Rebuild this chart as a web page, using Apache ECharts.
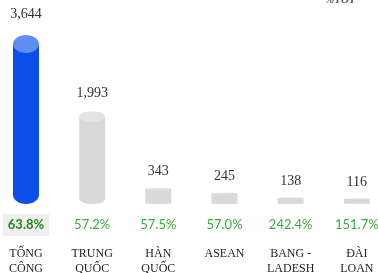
<!DOCTYPE html>
<html lang="vi">

<head>
    <meta charset="UTF-8">
    <title>Chart</title>
    <script src="https://cdn.jsdelivr.net/npm/echarts@6/dist/echarts.min.js"></script>
    <style>
        html, body { margin: 0; padding: 0; background: #fff; }
    </style>
</head>

<body>
    <div id="chart" style="width: 378px; height: 273px;"></div>
    <script>
        // data
        const categories = ['TỔNG\nCỘNG', 'TRUNG\nQUỐC', 'HÀN\nQUỐC', 'ASEAN', 'BANG -\nLADESH', 'ĐÀI\nLOAN'];
        const values = [3644, 1993, 343, 245, 138, 116];
        const yoy = ['63.8%', '57.2%', '57.5%', '57.0%', '242.4%', '151.7%'];

        function fmt(v) {
            return String(v).replace(/\B(?=(\d{3})+(?!\d))/g, ',');
        }

        const chart = echarts.init(document.getElementById('chart'));
        chart.setOption({
            animation: false,
            grid: { left: 0, right: 0, top: 35, bottom: 69 },
            // bar slots sit at 0..5; range chosen so the first and last bars land where the original has them
            xAxis: { type: 'value', min: -0.393, max: 5.32, show: false },
            yAxis: {
                type: 'value',
                min: 0,
                max: function (v) { return v.max; },
                show: false
            },
            graphic: [{
                type: 'text',
                left: 325,
                top: -5,
                style: {
                    text: '%YOY',
                    font: 'italic bold 11px "Liberation Serif"',
                    fill: '#555'
                }
            }],
            series: [{
                type: 'custom',
                clip: false,
                data: values.map((v, i) => [i, v]),
                renderItem: function (params, api) {
                    const i = params.dataIndex;
                    const top = api.coord([i, api.value(1)]);
                    const base = api.coord([i, 0]);
                    const w = 26;
                    const h = base[1] - top[1];
                    const ry = Math.min(9, h * 0.055);
                    const main = i === 0 ? '#0c4ee6' : '#d9d9d9';
                    const cap = i === 0 ? '#5f8ff0' : '#e3e3e3';
                    const first = i === 0;
                    return {
                        type: 'group',
                        children: [
                            {
                                type: 'rect',
                                shape: { x: top[0] - w / 2, y: top[1] + ry, width: w, height: Math.max(0, h - 2 * ry) },
                                style: { fill: main }
                            },
                            {
                                type: 'ellipse',
                                shape: { cx: top[0], cy: base[1] - ry, rx: w / 2, ry: ry },
                                style: { fill: main }
                            },
                            {
                                type: 'ellipse',
                                shape: { cx: top[0], cy: top[1] + ry, rx: w / 2, ry: ry },
                                style: { fill: cap }
                            },
                            {
                                type: 'text',
                                style: {
                                    text: fmt(values[i]),
                                    x: top[0],
                                    y: top[1] - 16 - ry / 2,
                                    align: 'center',
                                    verticalAlign: 'middle',
                                    font: '14px "Liberation Serif"',
                                    fill: '#333'
                                }
                            },
                            {
                                type: 'text',
                                style: {
                                    text: yoy[i],
                                    x: top[0],
                                    y: base[1] + 21,
                                    align: 'center',
                                    verticalAlign: 'middle',
                                    font: (first ? 'bold ' : '') + '13px Lato',
                                    fill: first ? '#1e8a1e' : '#3cab3c',
                                    backgroundColor: first ? '#efefef' : 'transparent',
                                    padding: first ? [5, 5, 4, 5] : 0
                                }
                            },
                            {
                                type: 'text',
                                style: {
                                    text: categories[i],
                                    x: top[0],
                                    y: base[1] + 42,
                                    align: 'center',
                                    verticalAlign: 'top',
                                    font: '12px "Liberation Serif"',
                                    lineHeight: 15,
                                    fill: '#222'
                                }
                            }
                        ]
                    };
                }
            }]
        });
    </script>
</body>

</html>
